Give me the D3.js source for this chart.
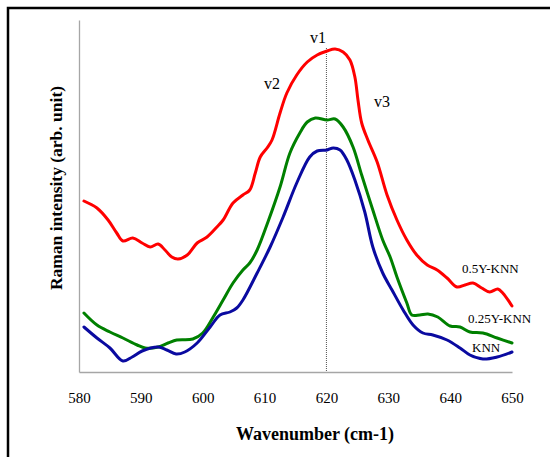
<!DOCTYPE html>
<html>
<head>
<meta charset="utf-8">
<script src="https://cdn.jsdelivr.net/npm/d3@7"></script>
<style>
  html, body { margin: 0; padding: 0; background: #fff; }
  svg { display: block; }
  text { font-family: "Liberation Serif", "Times New Roman", serif; }
</style>
</head>
<body>
<svg id="chart" width="550" height="457"></svg>
<script>
// Wavenumber tick labels
const xTicks = [580, 590, 600, 610, 620, 630, 640, 650];

// 0.5Y-KNN (red)
const redWave = [580.8,582.9,584.7,586.1,587.1,588.7,590.2,591.5,592.8,593.9,595.0,596.0,597.5,599.1,600.7,602.3,603.3,604.9,606.5,607.6,608.5,609.3,610.4,611.2,612.5,613.6,615.2,616.9,618.5,620.1,621.4,622.7,623.8,624.6,625.1,625.7,626.7,628.2,629.8,631.4,633.0,634.6,636.3,637.9,639.5,641.1,642.4,643.7,645.1,646.4,647.7,648.5,650.0];
const redInt  = [171,164,152,139,131,134,129,125,128,122,115,113,117,129,135,145,152,169,177,182,199,215,224,232,259,279,297,310,317,321,323,320,312,295,272,249,232,210,177,152,132,117,107,102,94,85,87,89,84,80,83,79,66];

// 0.25Y-KNN (green)
const greenWave = [580.8,582.9,585.0,587.1,589.4,590.7,592.8,594.4,595.8,598.4,600.0,601.7,603.3,604.9,606.5,607.6,608.8,610.6,612.5,614.1,615.7,616.9,618.2,620.1,621.4,622.7,624.3,625.7,627.5,629.1,630.3,631.4,633.0,633.8,635.1,636.4,638.0,640.0,641.6,643.2,645.3,647.6,650.0];
const greenInt  = [59,47,40,34,27,24,25,29,32,33,39,55,72,89,102,109,122,151,185,219,239,250,254,252,253,245,225,197,162,132,115,95,69,57,57,58,55,46,45,40,39,34,29];

// KNN (blue)
const blueWave = [580.8,582.9,585.0,587.1,588.6,590.2,592.8,594.2,595.7,597.1,599.1,601.2,602.8,604.4,605.5,606.5,608.8,610.9,613.0,615.2,617.3,618.5,620.1,621.1,622.2,623.3,624.6,626.2,627.5,629.1,630.6,632.4,634.0,635.6,637.2,639.5,641.6,643.2,645.3,647.6,650.0];
const blueInt  = [45,34,24,11,15,21,25,22,18,20,29,45,57,60,64,72,99,125,155,189,215,221,222,224,222,212,192,160,125,99,82,62,47,39,37,32,24,17,13,15,20];

const seriesNames = ["0.5Y-KNN", "0.25Y-KNN", "KNN"];
const peakLabels = ["v1", "v2", "v3"];

const svg = d3.select("#chart");

// outer frame
svg.append("rect")
  .attr("x", 8).attr("y", 8)
  .attr("width", 600).attr("height", 500)
  .attr("fill", "none").attr("stroke", "#000").attr("stroke-width", 2.5);

const x = d3.scaleLinear().domain([580, 650]).range([79, 512]);
const y = d3.scaleLinear().domain([0, 352]).range([372, 20]);

// axes lines
const xAxis = d3.axisBottom(x).tickValues(xTicks).tickSize(0).tickPadding(0).tickFormat(d3.format("d"));
const gx = svg.append("g").attr("transform", "translate(0,372)").call(xAxis);
gx.attr("font-family", null).attr("font-size", null);
gx.select(".domain").attr("stroke", "#a6a6a6").attr("stroke-width", 1.3);
gx.selectAll("text")
  .attr("dy", null)
  .attr("y", 31)
  .attr("fill", "#000")
  .style("font-size", "15px")
  .style("font-family", "'Liberation Serif', 'Times New Roman', serif");

const yAxis = d3.axisLeft(y).tickValues([]).tickSize(0);
const gy = svg.append("g").attr("transform", "translate(79,0)").call(yAxis);
gy.select(".domain").attr("stroke", "#a6a6a6").attr("stroke-width", 1.3);

// dotted marker at 620
svg.append("line")
  .attr("x1", x(620)).attr("x2", x(620))
  .attr("y1", 48).attr("y2", 372)
  .attr("stroke", "#555").attr("stroke-width", 1)
  .attr("stroke-dasharray", "1,1");

const line = d3.line()
  .x(d => x(d[0]))
  .y(d => y(d[1]))
  .curve(d3.curveCatmullRom.alpha(0.5));

const series = [
  { name: seriesNames[0], wave: redWave, vals: redInt, color: "#ff0000" },
  { name: seriesNames[1], wave: greenWave, vals: greenInt, color: "#008000" },
  { name: seriesNames[2], wave: blueWave, vals: blueInt, color: "#0a0aa0" }
];

svg.append("g").selectAll("path")
  .data(series)
  .join("path")
  .attr("d", s => line(s.wave.map((w, i) => [w, s.vals[i]])))
  .attr("fill", "none")
  .attr("stroke", s => s.color)
  .attr("stroke-width", 3)
  .attr("stroke-linejoin", "round")
  .attr("stroke-linecap", "round");

// series labels
const seriesLabelPos = [[462, 273], [468, 323], [472, 352]];
svg.append("g").selectAll("text")
  .data(seriesNames)
  .join("text")
  .attr("x", (d, i) => seriesLabelPos[i][0])
  .attr("y", (d, i) => seriesLabelPos[i][1])
  .style("font-size", "13px")
  .attr("fill", "#000")
  .text(d => d);

// peak labels
const peakPos = [[318, 43], [272, 89], [382, 107]];
svg.append("g").selectAll("text")
  .data(peakLabels)
  .join("text")
  .attr("x", (d, i) => peakPos[i][0])
  .attr("y", (d, i) => peakPos[i][1])
  .attr("text-anchor", "middle")
  .style("font-size", "16px")
  .attr("fill", "#000")
  .text(d => d);

// axis titles
svg.append("text")
  .attr("x", 315).attr("y", 440)
  .attr("text-anchor", "middle")
  .style("font-size", "18px")
  .style("font-weight", "bold")
  .text("Wavenumber (cm-1)");

svg.append("text")
  .attr("transform", "translate(62,188) rotate(-90)")
  .attr("text-anchor", "middle")
  .style("font-size", "17.5px")
  .style("font-weight", "bold")
  .text("Raman intensity (arb. unit)");
</script>
</body>
</html>
